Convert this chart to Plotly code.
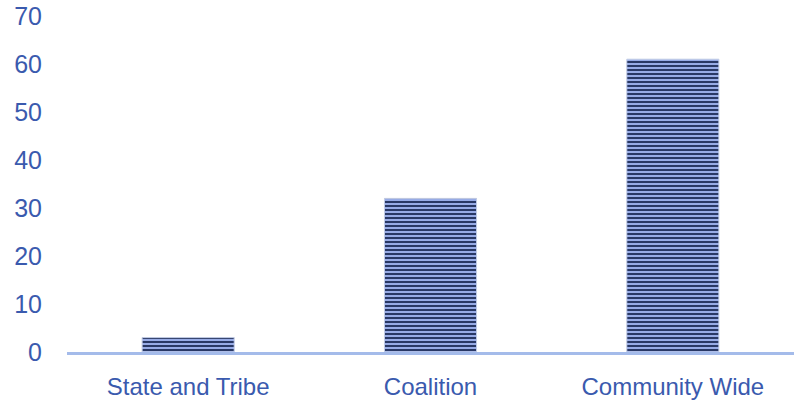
import plotly.graph_objects as go

categories = ["State and Tribe", "Coalition", "Community Wide"]
values = [3, 32, 61]
y_ticks = [0, 10, 20, 30, 40, 50, 60, 70]

fig = go.Figure(go.Bar(
    x=categories, y=values, width=0.38,
    marker=dict(
        color="#97abe6",
        line=dict(color="#c3cde6", width=1),
        pattern=dict(shape="-", fillmode="replace", bgcolor="#97abe6",
                     fgcolor="#14224c", size=4, solidity=0.42),
    ),
))

fig.update_layout(
    width=794, height=401,
    margin=dict(l=67, r=0, t=16, b=49),
    paper_bgcolor="white", plot_bgcolor="white",
    font=dict(family="Liberation Sans, Arial, sans-serif", size=24, color="#3a5aae"),
    showlegend=False,
)
fig.update_yaxes(range=[0, 70], tickvals=y_ticks, showgrid=False, zeroline=False,
                 showline=False, ticks="", ticklabelstandoff=24, automargin=False,
                 ticklabeloverflow="allow",
                 tickfont=dict(size=25, color="#3a5aae"))
fig.update_xaxes(showline=True, linecolor="#a4bbea", linewidth=2.5, ticks="",
                 showgrid=False, tickfont=dict(size=24, color="#3a5aae"),
                 ticklabelstandoff=11, automargin=False)

# remove the default 8px page margin so the figure fills the window exactly
fig.write_html("out.html",
               config={"displayModeBar": False},
               post_script="document.body.style.margin='0';document.body.style.overflow='hidden';")
